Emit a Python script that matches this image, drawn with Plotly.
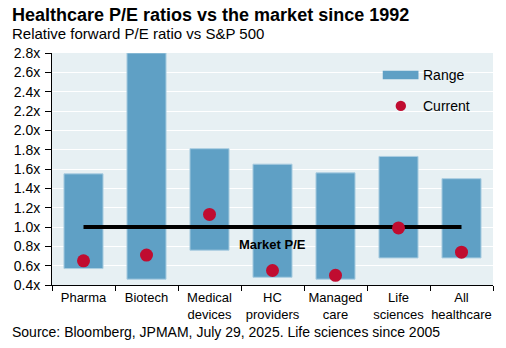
import plotly.graph_objects as go

categories = ["Pharma", "Biotech", "Medical<br>devices", "HC<br>providers",
              "Managed<br>care", "Life<br>sciences", "All<br>healthcare"]
range_low = [0.57, 0.46, 0.76, 0.48, 0.46, 0.68, 0.68]
range_high = [1.55, 2.80, 1.81, 1.65, 1.56, 1.73, 1.50]
current = [0.65, 0.71, 1.13, 0.55, 0.50, 0.99, 0.74]
market_pe = 1.0
y_ticks = [0.4, 0.6, 0.8, 1.0, 1.2, 1.4, 1.6, 1.8, 2.0, 2.2, 2.4, 2.6, 2.8]

BAR = "rgb(95,160,197)"
DOT = "rgb(192,12,48)"
FONT = "Liberation Sans, Arial, sans-serif"

fig = go.Figure()

fig.add_trace(go.Bar(
    x=categories,
    y=[h - l for h, l in zip(range_high, range_low)],
    base=range_low,
    width=0.62,
    marker=dict(color=BAR, line=dict(color="rgb(170,205,225)", width=1)),
    showlegend=False,
    hoverinfo="skip",
))

fig.add_trace(go.Scatter(
    x=[categories[0], categories[-1]],
    y=[market_pe, market_pe],
    mode="lines",
    line=dict(color="black", width=4),
    showlegend=False,
))

fig.add_trace(go.Scatter(
    x=categories,
    y=current,
    mode="markers",
    marker=dict(color=DOT, size=13),
    showlegend=False,
))

fig.add_annotation(
    x=categories[3], y=0.82, xref="x", yref="y",
    text="<b>Market P/E</b>", showarrow=False,
    font=dict(family=FONT, size=13, color="black"),
)

# Legend drawn by hand: wide swatch for the range, dot for the current value
fig.add_shape(type="rect", xref="paper", yref="paper",
              x0=0.750, x1=0.831, y0=0.887, y1=0.924,
              fillcolor=BAR, line=dict(width=0))
fig.add_annotation(xref="paper", yref="paper", x=0.836, y=0.905,
                   text="Range", showarrow=False,
                   xanchor="left", yanchor="middle",
                   font=dict(family=FONT, size=14, color="black"))
fig.add_shape(type="circle", xref="paper", yref="paper",
              x0=0.791 - 0.0118, x1=0.791 + 0.0118,
              y0=0.772 - 0.0224, y1=0.772 + 0.0224,
              fillcolor=DOT, line=dict(width=0))
fig.add_annotation(xref="paper", yref="paper", x=0.836, y=0.772,
                   text="Current", showarrow=False,
                   xanchor="left", yanchor="middle",
                   font=dict(family=FONT, size=14, color="black"))

fig.add_annotation(xref="paper", yref="paper", x=-0.095, y=1.164,
                   xanchor="left", yanchor="middle",
                   text="<b>Healthcare P/E ratios vs the market since 1992</b>",
                   showarrow=False, font=dict(family=FONT, size=18, color="black"))
fig.add_annotation(xref="paper", yref="paper", x=-0.095, y=1.082,
                   xanchor="left", yanchor="middle",
                   text="Relative forward P/E ratio vs S&P 500",
                   showarrow=False, font=dict(family=FONT, size=15, color="black"))
fig.add_annotation(xref="paper", yref="paper", x=-0.095, y=-0.203,
                   xanchor="left", yanchor="middle",
                   text="Source: Bloomberg, JPMAM, July 29, 2025. Life sciences since 2005",
                   showarrow=False, font=dict(family=FONT, size=14, color="black"))

fig.update_layout(
    width=506, height=348,
    margin=dict(l=52, r=13, t=53, b=63),
    paper_bgcolor="white",
    plot_bgcolor="rgb(231,240,243)",
    font=dict(family=FONT, size=13, color="black"),
    xaxis=dict(
        type="category", tickson="boundaries", ticks="outside", ticklen=5,
        tickcolor="black", showline=True, linecolor="black", linewidth=1,
        showgrid=False, tickfont=dict(size=13), tickangle=0,
        range=[-0.5, 6.5],
    ),
    yaxis=dict(
        range=[0.4, 2.8], tickvals=y_ticks,
        ticktext=[f"{v:.1f}x" for v in y_ticks],
        ticks="outside", ticklen=6, tickcolor="black",
        ticklabelstandoff=2,
        showline=True, linecolor="black", linewidth=1,
        gridcolor="white", gridwidth=1, zeroline=False,
        tickfont=dict(size=14),
    ),
)

fig.write_html("out.html")
